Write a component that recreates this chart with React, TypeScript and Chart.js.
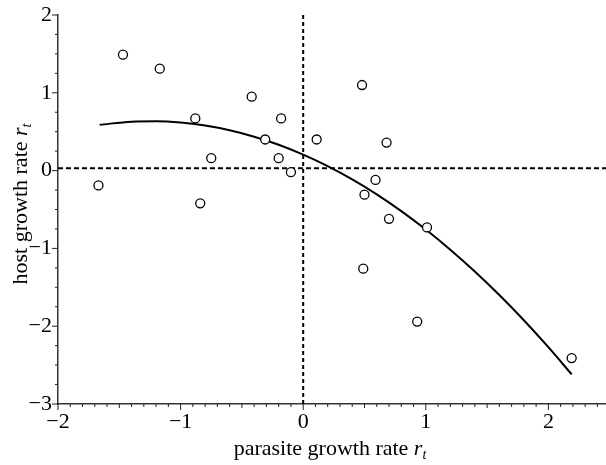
import { useEffect, useRef } from 'react'
import Chart from 'chart.js/auto'

// observed points (parasite growth rate, host growth rate)
const parasiteRate = [-1.67, -1.47, -1.17, -0.88, -0.84, -0.75, -0.42, -0.31, -0.2, -0.18, -0.1, 0.11, 0.48, 0.68, 0.59, 0.5, 0.7, 1.01, 0.49, 0.93, 2.19]
const hostRate = [-0.19, 1.49, 1.31, 0.67, -0.42, 0.16, 0.95, 0.4, 0.16, 0.67, -0.02, 0.4, 1.1, 0.36, -0.12, -0.31, -0.62, -0.73, -1.26, -1.94, -2.41]

// fitted curve
const fitX = [-1.66, -1.4, -1.2, -1.0, -0.8, -0.6, -0.4, -0.2, 0, 0.2, 0.4, 0.6, 0.8, 1.0, 1.2, 1.4, 1.6, 1.8, 2.0, 2.19]
const fitY = [0.589, 0.629, 0.634, 0.618, 0.579, 0.519, 0.436, 0.332, 0.205, 0.057, -0.114, -0.306, -0.521, -0.757, -1.016, -1.296, -1.599, -1.923, -2.27, -2.619]

// dashed reference lines
const parasiteRef = 0
const hostRef = 0.03

const xTicks = [-2, -1, 0, 1, 2]
const yTicks = [-3, -2, -1, 0, 1, 2]
const X_MIN = -2
const X_MAX = 2.47
const Y_MIN = -3
const Y_MAX = 2

const SERIF = '"Liberation Serif", "Times New Roman", serif'

const fmt = (v: number) => (v < 0 ? '\u2212' + Math.abs(v) : String(v))

function drawRtTitle(ctx: CanvasRenderingContext2D, prefix: string, cx: number, baseline: number) {
  ctx.font = `22px ${SERIF}`
  const w1 = ctx.measureText(prefix).width
  ctx.font = `italic 22px ${SERIF}`
  const w2 = ctx.measureText('r').width
  ctx.font = `italic 14px ${SERIF}`
  const w3 = ctx.measureText('t').width
  let x = cx - (w1 + w2 + w3) / 2
  ctx.textAlign = 'left'
  ctx.textBaseline = 'alphabetic'
  ctx.fillStyle = '#000'
  ctx.font = `22px ${SERIF}`
  ctx.fillText(prefix, x, baseline)
  x += w1
  ctx.font = `italic 22px ${SERIF}`
  ctx.fillText('r', x, baseline)
  x += w2
  ctx.font = `italic 14px ${SERIF}`
  ctx.fillText('t', x, baseline + 4)
}

const zeroPadding = (s: any) => {
  s.paddingLeft = 0
  s.paddingRight = 0
  s.paddingTop = 0
  s.paddingBottom = 0
}

const axisDecor = {
  id: 'axisDecor',
  afterDraw(chart: any) {
    const { ctx, chartArea } = chart
    const xs = chart.scales.x
    const ys = chart.scales.y
    ctx.save()
    ctx.strokeStyle = '#222'
    ctx.lineWidth = 1
    ctx.beginPath()
    for (let i = 0; ; i++) {
      const v = X_MIN + i * 0.1
      if (v > X_MAX + 1e-9) break
      const px = xs.getPixelForValue(v)
      const major = Math.abs(v - Math.round(v)) < 1e-6
      const half = Math.abs(v * 2 - Math.round(v * 2)) < 1e-6
      const len = major ? 6 : half ? 4 : 3
      ctx.moveTo(px, chartArea.bottom)
      ctx.lineTo(px, chartArea.bottom + len)
    }
    for (let i = 0; ; i++) {
      const v = Y_MIN + i * 0.25
      if (v > Y_MAX + 1e-9) break
      const py = ys.getPixelForValue(v)
      const major = Math.abs(v - Math.round(v)) < 1e-6
      const len = major ? 6 : 3
      ctx.moveTo(chartArea.left, py)
      ctx.lineTo(chartArea.left - len, py)
    }
    ctx.stroke()

    drawRtTitle(ctx, 'parasite growth rate ', 330, 455)
    ctx.translate(27, 204)
    ctx.rotate(-Math.PI / 2)
    drawRtTitle(ctx, 'host growth rate ', 0, 0)
    ctx.restore()
  },
}

export default function App() {
  const canvasRef = useRef<HTMLCanvasElement>(null)
  const chartRef = useRef<Chart | null>(null)

  useEffect(() => {
    document.body.style.margin = '0'
    if (!canvasRef.current) return
    const ctx = canvasRef.current.getContext('2d')
    if (!ctx) return

    if (chartRef.current) {
      chartRef.current.destroy()
    }

    const chart = new Chart(ctx, {
      type: 'scatter',
      data: {
        datasets: [
          {
            label: 'observed',
            data: parasiteRate.map((x, i) => ({ x, y: hostRate[i] })),
            pointStyle: 'circle',
            pointRadius: 4.5,
            pointBorderWidth: 1.3,
            pointBorderColor: '#000',
            pointBackgroundColor: '#fff',
          },
          {
            label: 'fit',
            type: 'line',
            data: fitX.map((x, i) => ({ x, y: fitY[i] })),
            borderColor: '#000',
            borderWidth: 2,
            pointRadius: 0,
            cubicInterpolationMode: 'monotone',
            fill: false,
          },
          {
            label: 'parasite ref',
            type: 'line',
            data: [{ x: parasiteRef, y: Y_MIN }, { x: parasiteRef, y: Y_MAX }],
            borderColor: '#000',
            borderWidth: 2,
            borderDash: [4, 3],
            pointRadius: 0,
            fill: false,
          },
          {
            label: 'host ref',
            type: 'line',
            data: [{ x: X_MIN, y: hostRef }, { x: X_MAX, y: hostRef }],
            borderColor: '#000',
            borderWidth: 2,
            borderDash: [5, 3],
            pointRadius: 0,
            fill: false,
          },
        ],
      },
      options: {
        responsive: false,
        animation: false,
        devicePixelRatio: 1,
        layout: { autoPadding: false, padding: { top: 15, right: 0, bottom: 0, left: 0 } },
        plugins: {
          legend: { display: false },
          tooltip: { enabled: false },
        },
        scales: {
          x: {
            type: 'linear',
            min: X_MIN,
            max: X_MAX,
            grid: { display: false, drawTicks: false },
            border: { color: '#333', width: 1.5 },
            afterBuildTicks: (s: any) => {
              s.ticks = xTicks.map((value) => ({ value }))
            },
            afterFit: (s: any) => {
              s.height = 61
              zeroPadding(s)
            },
            ticks: {
              color: '#000',
              font: { family: SERIF, size: 22 },
              padding: 5,
              maxRotation: 0,
              callback: (v: any) => fmt(Number(v)),
            },
          },
          y: {
            type: 'linear',
            min: Y_MIN,
            max: Y_MAX,
            grid: { display: false, drawTicks: false },
            border: { color: '#333', width: 1.5 },
            afterBuildTicks: (s: any) => {
              s.ticks = yTicks.map((value) => ({ value }))
            },
            afterFit: (s: any) => {
              s.width = 58
              zeroPadding(s)
            },
            ticks: {
              color: '#000',
              font: { family: SERIF, size: 22 },
              padding: 6,
              callback: (v: any) => fmt(Number(v)),
            },
          },
        },
      },
      plugins: [axisDecor],
    })

    chartRef.current = chart

    return () => {
      if (chartRef.current) {
        chartRef.current.destroy()
        chartRef.current = null
      }
    }
  }, [])

  return (
    <div style={{ position: 'absolute', left: 0, top: 0, width: 606, height: 465 }}>
      <canvas ref={canvasRef} width={606} height={465} style={{ width: 606, height: 465 }}></canvas>
    </div>
  )
}
